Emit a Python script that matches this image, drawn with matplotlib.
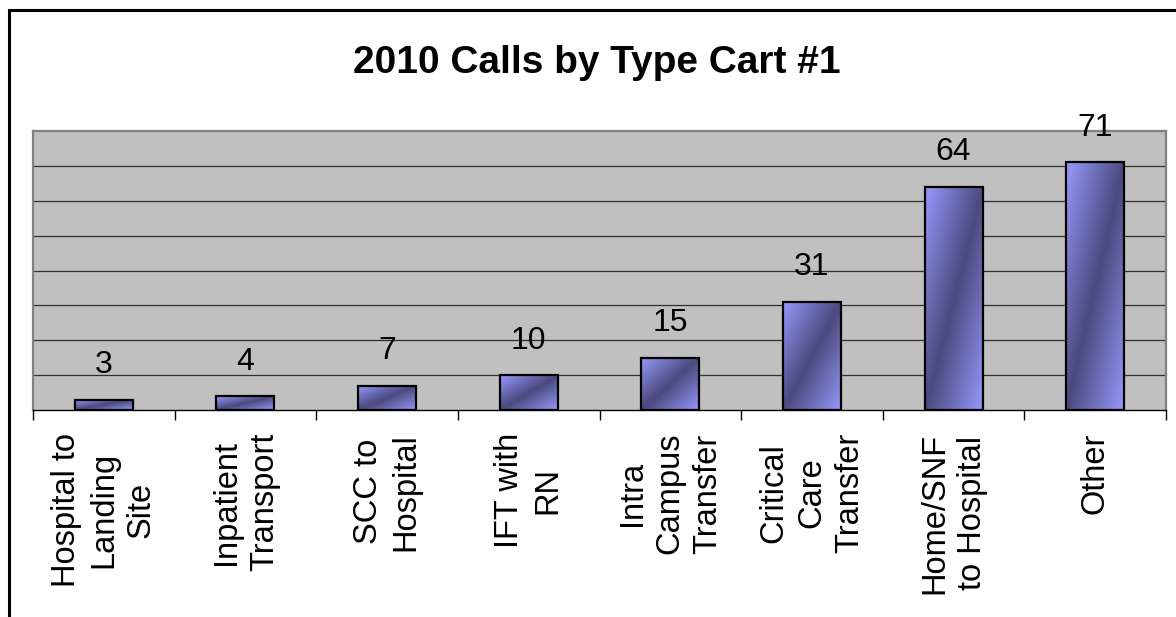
import matplotlib
matplotlib.use("Agg")
import matplotlib.pyplot as plt
import numpy as np
from matplotlib.patches import Rectangle

categories = ["Hospital to\nLanding\nSite", "Inpatient\nTransport", "SCC to\nHospital",
              "IFT with\nRN", "Intra\nCampus\nTransfer", "Critical\nCare\nTransfer",
              "Home/SNF\nto Hospital", "Other"]
values = [3, 4, 7, 10, 15, 31, 64, 71]
title = "2010 Calls by Type Cart #1"

plt.rcParams['font.family'] = ['Liberation Sans', 'DejaVu Sans']

W, H = 1176, 617
fig = plt.figure(figsize=(W / 100, H / 100), dpi=100)
ax = fig.add_axes([33 / W, 1 - 410 / H, (1166 - 33) / W, (410 - 131) / H])
ax.set_facecolor('#C0C0C0')

x = np.arange(len(values))
bars = ax.bar(x, values, width=0.41, facecolor='none', edgecolor='black',
              linewidth=1.6, zorder=3)

light = np.array([0x99, 0x99, 0xFF]) / 255
dark = np.array([0x4A, 0x4A, 0x7E]) / 255
n = 200
xx, yy = np.meshgrid(np.linspace(0, 1, n), np.linspace(0, 1, n))
t = (xx + yy) / 2
v = np.abs(2 * t - 1)
grad = dark[None, None, :] + (light - dark)[None, None, :] * v[:, :, None]

for b in bars:
    bx, by = b.get_x(), b.get_y()
    bw, bh = b.get_width(), b.get_height()
    im = ax.imshow(grad, extent=(bx, bx + bw, by, by + bh), origin='upper',
                   aspect='auto', zorder=2, interpolation='bilinear')
    im.set_clip_path(b)
    ax.annotate(f"{b.get_height():g}", (bx + bw / 2, by + bh), xytext=(0, 14),
                textcoords='offset points', ha='center', va='bottom', fontsize=23)

ax.set_xlim(-0.5, len(values) - 0.5)
ax.set_ylim(0, 80)
ax.set_yticks(np.arange(10, 80, 10))
ax.yaxis.grid(True, color='#303030', linewidth=0.9)
ax.set_axisbelow(True)
ax.tick_params(axis='y', length=0, labelleft=False)

ax.set_xticks(x)
ax.set_xticklabels(categories, rotation=90, fontsize=23.5, linespacing=1.28)
for lbl in ax.get_xticklabels():
    lbl.set_multialignment('center')
ax.tick_params(axis='x', which='major', length=0, pad=16.5)
ax.set_xticks(np.arange(-0.5, len(values)), minor=True)
ax.tick_params(axis='x', which='minor', length=7.5, width=1, color='black')

for s in ['left', 'top', 'right']:
    ax.spines[s].set_color('#808080')
    ax.spines[s].set_linewidth(1.6)
ax.spines['bottom'].set_color('black')
ax.spines['bottom'].set_linewidth(1)

fig.text(597 / W, 1 - 73 / H, title, ha='center', va='baseline',
         fontsize=28, fontweight='bold')

fig.add_artist(Rectangle((8.5 / W, -0.2), 1.5, 1.2 - 10 / H, transform=fig.transFigure,
                         facecolor='none', edgecolor='black', linewidth=2.2))

fig.savefig('out.png', dpi=100)
